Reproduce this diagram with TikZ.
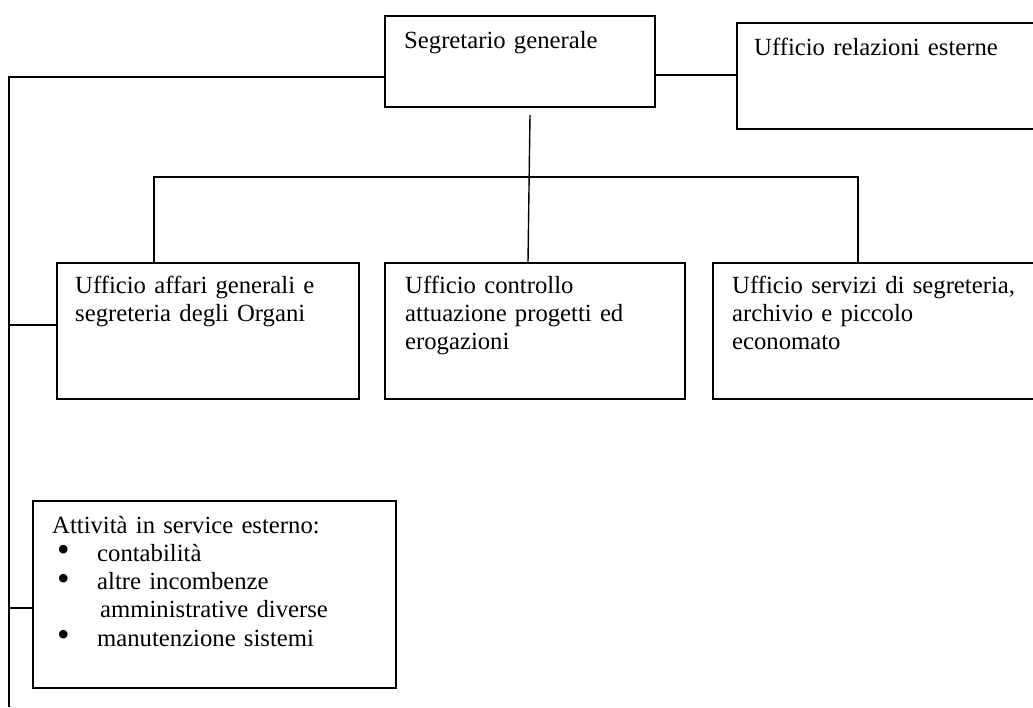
\documentclass[tikz,border=0pt]{standalone}
\usepackage{fontspec}
\setmainfont{Liberation Serif}
\newcommand{\bigbul}{\smash{\raisebox{-0.5pt}{\scalebox{1.45}{•}}}}
\begin{document}
\begin{tikzpicture}[x=1pt,y=-1pt,
  box/.style={draw=black, line width=1.6pt, rectangle, inner sep=0pt, anchor=north west},
  conn/.style={draw=black, line width=1.4pt},
  txt/.style={anchor=base west, inner sep=0pt, text width=330pt, align=left,
    font=\fontsize{24.7}{28.3}\selectfont}]
\useasboundingbox (0,0) rectangle (1033,707);
% boxes
\node[box, minimum width=270pt, minimum height=91pt] (sg) at (384,15) {};
\node[box, minimum width=310pt, minimum height=106pt] (rel) at (736,22) {};
\node[box, minimum width=302pt, minimum height=136pt] (b1) at (56,262) {};
\node[box, minimum width=300pt, minimum height=136pt] (b2) at (384,262) {};
\node[box, minimum width=330pt, minimum height=136pt] (b3) at (712,262) {};
\node[box, minimum width=363pt, minimum height=187pt] (b4) at (32,500) {};
% texts
\node[txt] (sgt) at (404,48) {Segretario generale};
\node[txt] (relt) at (754,55) {Ufficio relazioni esterne};
\node[txt] (b1t) at (75,293) {Ufficio affari generali e\\segreteria degli Organi};
\node[txt] (b2t) at (405,293) {Ufficio controllo\\attuazione progetti ed\\erogazioni};
\node[txt] (b3t) at (732,293) {Ufficio servizi di segreteria,\\archivio e piccolo\\economato};
\node[txt] (b4t) at (52,533) {Attività in service esterno:\\
\hspace*{5pt}\makebox[40pt][l]{\bigbul}contabilità\\
\hspace*{5pt}\makebox[40pt][l]{\bigbul}altre incombenze\\
\hspace*{48pt}amministrative diverse\\
\hspace*{5pt}\makebox[40pt][l]{\bigbul}manutenzione sistemi};
% connectors
\coordinate (lefttop) at (9,77);
\coordinate (leftbot) at (9,707);
\coordinate (sgdown) at (530,115);
\coordinate (brl) at (154,177);
\coordinate (brr) at (858,177);
\draw[conn] (sg.west |- lefttop) -- (lefttop) -- (leftbot);
\draw[conn] (sg.east |- 0,75) -- (rel.west |- 0,75);
\draw[conn] (sgdown) -- (b2.north -| 528,0);
\draw[conn] (b1.north -| brl) -- (brl) -- (brr) -- (b3.north -| brr);
\draw[conn] (lefttop |- 0,325) -- (b1.west |- 0,325);
\draw[conn] (lefttop |- 0,608) -- (b4.west |- 0,608);
\end{tikzpicture}
\end{document}
